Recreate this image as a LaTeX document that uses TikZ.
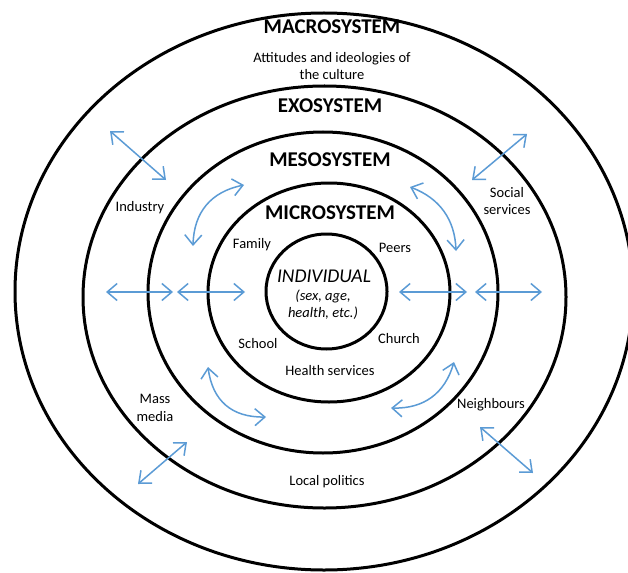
\documentclass[tikz,border=0pt]{standalone}
\usepackage{fontspec}
\setmainfont{Carlito}
\usetikzlibrary{arrows.meta,shapes.geometric}
\definecolor{arrowblue}{RGB}{91,155,213}
\begin{document}
\begin{tikzpicture}[x=1pt,y=-1pt,
 ring/.style={draw=black,line width=3pt},
 link/.style={draw=arrowblue,line width=1.5pt,
   {Straight Barb[length=10pt,width=17pt]}-{Straight Barb[length=10pt,width=17pt]}},
 title/.style={font=\bfseries\fontsize{21}{24}\selectfont,inner sep=0pt},
 lab/.style={font=\fontsize{14.5}{17.5}\selectfont,align=center,inner sep=0pt},
 ital/.style={font=\itshape\fontsize{14.5}{17}\selectfont,align=center,inner sep=0pt}]
\useasboundingbox (0,0) rectangle (628,572);
\fill[white] (0,0) rectangle (628,572);
\clip (0,0) rectangle (628,572);
% rings
\draw[ring] (324,291.5) ellipse [x radius=309, y radius=278.5];
\draw[ring] (324.5,297) ellipse [x radius=241.5, y radius=211];
\draw[ring] (323,292.5) ellipse [x radius=175, y radius=160.5];
\draw[ring] (329,292.5) ellipse [x radius=121, y radius=109.5];
\draw[ring] (326.5,291.5) ellipse [x radius=60.5, y radius=57.5];
% titles
\node[title] (macro) at (332,27) {MACROSYSTEM};
\node[lab] (culture) at (332,66) {Attitudes and ideologies of\\the culture};
\node[title] (exo) at (330,106) {EXOSYSTEM};
\node[title] (meso) at (330,160) {MESOSYSTEM};
\node[title] (micro) at (330,213) {MICROSYSTEM};
\node[font=\itshape\fontsize{19.5}{22}\selectfont,inner sep=0pt] (indiv) at (324,276) {INDIVIDUAL};
\node[ital] (traits) at (323,305) {(sex, age,\\health, etc.)};
% labels
\node[lab] (industry) at (140,208) {Industry};
\node[lab] (social) at (507,201) {Social\\services};
\node[lab] (family) at (252,245) {Family};
\node[lab] (peers) at (395,248) {Peers};
\node[lab] (school) at (258,344) {School};
\node[lab] (church) at (399,339) {Church};
\node[lab] (health) at (330,371) {Health services};
\node[lab] (mass) at (155,408) {Mass\\media};
\node[lab] (neigh) at (491,405) {Neighbours};
\node[lab] (local) at (327,482) {Local politics};
% arrow end points
\coordinate (h1a) at (106,292); \coordinate (h1b) at (173,292);
\coordinate (h2a) at (177,292); \coordinate (h2b) at (245,292);
\coordinate (h3a) at (399,292); \coordinate (h3b) at (467,292);
\coordinate (h4a) at (475,292); \coordinate (h4b) at (542,292);
\coordinate (d1a) at (110,131); \coordinate (d1b) at (166,180);
\coordinate (d2a) at (527,134); \coordinate (d2b) at (472,180);
\coordinate (d3a) at (187,442); \coordinate (d3b) at (138,484);
\coordinate (d4a) at (480,427); \coordinate (d4b) at (533,473);
\coordinate (c1a) at (193,246); \coordinate (c1b) at (244,185);
\coordinate (c2a) at (410,187); \coordinate (c2b) at (456,251);
\coordinate (c3a) at (208,367); \coordinate (c3b) at (266,417);
\coordinate (c4a) at (454,362); \coordinate (c4b) at (391,408);
% straight arrows
\draw[link] (h1a) -- (h1b);
\draw[link] (h2a) -- (h2b);
\draw[link] (h3a) -- (h3b);
\draw[link] (h4a) -- (h4b);
\draw[link] (d1a) -- (d1b);
\draw[link] (d2a) -- (d2b);
\draw[link] (d3a) -- (d3b);
\draw[link] (d4a) -- (d4b);
% curved arrows
\draw[link] (c1a) .. controls (193.9,212.2) and (210.9,191.8) .. (c1b);
\draw[link] (c2a) .. controls (439.5,198.1) and (454.9,219.5) .. (c2b);
\draw[link] (c3a) .. controls (212.5,400.9) and (231.9,417.5) .. (c3b);
\draw[link] (c4a) .. controls (444.8,393.5) and (423.8,408.9) .. (c4b);
\end{tikzpicture}
\end{document}
